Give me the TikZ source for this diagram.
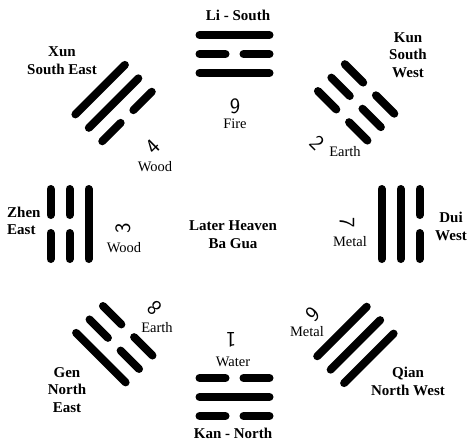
\documentclass[tikz,border=0pt]{standalone}
\usepackage{fontspec}
\setmainfont{Liberation Serif}
\usepackage{tikz}

\tikzset{
  yaoline/.style={line width=8pt, line cap=round},
  dirlabel/.style={font=\fontsize{15}{17.5}\selectfont\bfseries, align=center, inner sep=0pt},
  elemlabel/.style={font=\fontsize{14.5}{16}\selectfont, inner sep=0pt},
  numlabel/.style={font=\fontsize{22}{22}\selectfont\sffamily, inner sep=0pt},
}

% one line of a trigram: #1 radial offset, #2 = 1 solid / 0 broken
\newcommand{\yao}[2]{%
  \ifnum#2=1
    \draw[yaoline] (-35,#1) -- (35,#1);
  \else
    \draw[yaoline] (-35,#1) -- (-9,#1) (9,#1) -- (35,#1);
  \fi}
% trigram: #1 angle, #2 radius, #3 inner, #4 middle, #5 outer line
\newcommand{\trigram}[5]{%
  \begin{scope}[shift={(234.5,216)}, rotate=#1-90]
    \yao{#2-19}{#3}
    \yao{#2}{#4}
    \yao{#2+19}{#5}
  \end{scope}}

\begin{document}
\begin{tikzpicture}[x=1pt, y=1pt]
  \useasboundingbox (0,0) rectangle (468,440);

  \trigram{90}{170}{1}{0}{1}   % Li
  \trigram{45}{172}{0}{0}{0}   % Kun
  \trigram{0}{166}{1}{1}{0}    % Dui
  \trigram{-45}{171}{1}{1}{1}  % Qian
  \trigram{-90}{173}{0}{1}{0}  % Kan
  \trigram{-135}{170}{0}{0}{1} % Gen
  \trigram{180}{165}{1}{0}{0}  % Zhen
  \trigram{135}{171}{0}{1}{1}  % Xun

  % names and directions
  \node[dirlabel] (li) at (238,425) {Li - South};
  \node[dirlabel] (kun) at (408,385) {Kun\\South\\West};
  \node[dirlabel] (dui) at (451,213.5) {Dui\\West};
  \node[dirlabel] (qian) at (408,58.5) {Qian\\North West};
  \node[dirlabel] (kan) at (233,7) {Kan - North};
  \node[dirlabel] (gen) at (67,50) {Gen\\North\\East};
  \node[dirlabel, align=left, anchor=west] (zhen) at (7,219) {Zhen\\East};
  \node[dirlabel] (xun) at (62,379.5) {Xun\\South East};
  \node[dirlabel] (centre) at (233,205.5) {Later Heaven\\Ba Gua};

  % numbers, turned to face the centre
  \node[numlabel] (num-li) at (235,334) {9};
  \node[numlabel, rotate=-45] (num-kun) at (317,297) {2};
  \node[numlabel, rotate=-90] (num-dui) at (347,217) {7};
  \node[numlabel, rotate=-135] (num-qian) at (313,126) {6};
  \node[numlabel, rotate=180] (num-kan) at (231,100) {1};
  \node[numlabel, rotate=135] (num-gen) at (155,132) {8};
  \node[numlabel, rotate=90] (num-zhen) at (123,212) {3};
  \node[numlabel, rotate=45] (num-xun) at (153,293) {4};

  % elements
  \node[elemlabel] (el-li) at (235,316) {Fire};
  \node[elemlabel] (el-kun) at (345,288) {Earth};
  \node[elemlabel] (el-dui) at (350,198) {Metal};
  \node[elemlabel] (el-qian) at (307,108) {Metal};
  \node[elemlabel] (el-kan) at (233,78) {Water};
  \node[elemlabel] (el-gen) at (157,112) {Earth};
  \node[elemlabel] (el-zhen) at (124,192) {Wood};
  \node[elemlabel] (el-xun) at (155,273) {Wood};
\end{tikzpicture}
\end{document}
